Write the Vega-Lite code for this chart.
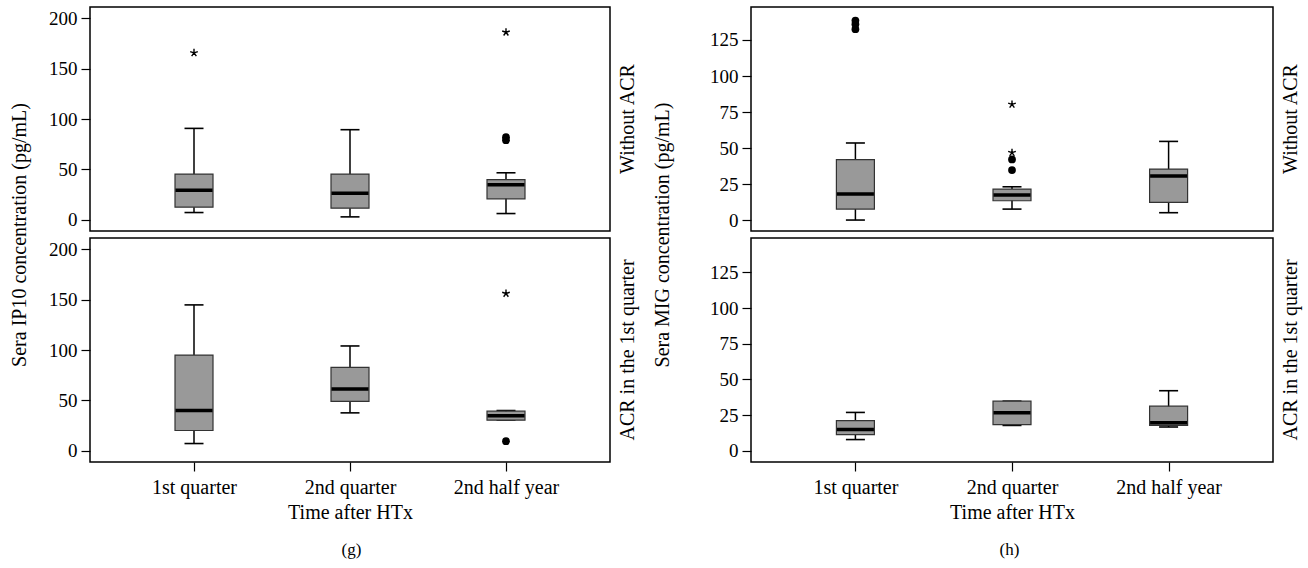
{
  "$schema": "https://vega.github.io/schema/vega-lite/v6.json",
  "padding": {"left": 8, "top": 6, "right": 5, "bottom": 5},
  "background": "white",
  "config": {
    "font": "Liberation Serif",
    "view": {"stroke": "black", "strokeWidth": 1.5},
    "axis": {"labelFont": "Liberation Serif", "labelFontSize": 19, "labelColor": "black", "titleFont": "Liberation Serif", "titleFontSize": 20, "titleFontWeight": "normal", "titleColor": "black", "tickColor": "black", "tickSize": 9, "tickWidth": 1.2, "domain": false, "grid": false, "labelPadding": 4},
    "axisX": {"labelFontSize": 20},
    "title": {"font": "Liberation Serif", "fontSize": 20, "fontWeight": "normal", "color": "black"},
    "tick": {"opacity": 1},
    "rule": {"opacity": 1}
  },
  "datasets": {
    "boxes": [
      {"panel": "g", "group": "w", "time": "1st quarter", "lower": 7.3, "q1": 12.6, "median": 29.5, "q3": 45.4, "upper": 90.7},
      {"panel": "g", "group": "w", "time": "2nd quarter", "lower": 3, "q1": 11.6, "median": 26.5, "q3": 45.4, "upper": 89.4},
      {"panel": "g", "group": "w", "time": "2nd half year", "lower": 6.3, "q1": 20.9, "median": 34.8, "q3": 40, "upper": 46.7},
      {"panel": "g", "group": "a", "time": "1st quarter", "lower": 7.3, "q1": 20.2, "median": 40, "q3": 95, "upper": 144.7},
      {"panel": "g", "group": "a", "time": "2nd quarter", "lower": 37.7, "q1": 49, "median": 61.3, "q3": 82.8, "upper": 104},
      {"panel": "g", "group": "a", "time": "2nd half year", "lower": 30.5, "q1": 30.5, "median": 34.8, "q3": 39.4, "upper": 40},
      {"panel": "h", "group": "w", "time": "1st quarter", "lower": 0, "q1": 7.6, "median": 18, "q3": 41.9, "upper": 53.5},
      {"panel": "h", "group": "w", "time": "2nd quarter", "lower": 7.6, "q1": 13.4, "median": 17.4, "q3": 21.5, "upper": 23.1},
      {"panel": "h", "group": "w", "time": "2nd half year", "lower": 5.1, "q1": 12.3, "median": 30.6, "q3": 35.4, "upper": 54.6},
      {"panel": "h", "group": "a", "time": "1st quarter", "lower": 7.9, "q1": 11.3, "median": 15, "q3": 21.1, "upper": 26.9},
      {"panel": "h", "group": "a", "time": "2nd quarter", "lower": 17.8, "q1": 18.3, "median": 26.6, "q3": 34.8, "upper": 34.8},
      {"panel": "h", "group": "a", "time": "2nd half year", "lower": 16.7, "q1": 17.8, "median": 19.7, "q3": 31.3, "upper": 42.1}
    ],
    "outs": [
      {"panel": "g", "group": "w", "time": "1st quarter", "value": 165.6, "kind": "e"},
      {"panel": "g", "group": "w", "time": "2nd half year", "value": 79, "kind": "o"},
      {"panel": "g", "group": "w", "time": "2nd half year", "value": 82, "kind": "o"},
      {"panel": "g", "group": "w", "time": "2nd half year", "value": 186, "kind": "e"},
      {"panel": "g", "group": "a", "time": "2nd half year", "value": 9.6, "kind": "o"},
      {"panel": "g", "group": "a", "time": "2nd half year", "value": 156, "kind": "e"},
      {"panel": "h", "group": "w", "time": "1st quarter", "value": 132.5, "kind": "o"},
      {"panel": "h", "group": "w", "time": "1st quarter", "value": 136, "kind": "o"},
      {"panel": "h", "group": "w", "time": "1st quarter", "value": 138.5, "kind": "o"},
      {"panel": "h", "group": "w", "time": "2nd quarter", "value": 34.7, "kind": "o"},
      {"panel": "h", "group": "w", "time": "2nd quarter", "value": 42.1, "kind": "o"},
      {"panel": "h", "group": "w", "time": "2nd quarter", "value": 46.8, "kind": "e"},
      {"panel": "h", "group": "w", "time": "2nd quarter", "value": 80.3, "kind": "e"}
    ]
  },
  "spacing": 12,
  "hconcat": [
    {
      "spacing": 7,
      "bounds": "flush",
      "title": {"text": "(g)", "orient": "bottom", "anchor": "middle", "fontSize": 17, "offset": 19, "dx": 28},
      "vconcat": [
        {
          "width": 520, "height": 224,
          "title": {"text": "Without ACR", "orient": "right", "angle": -90, "offset": -12, "anchor": "middle"},
          "encoding": {
            "x": {"field": "time", "type": "nominal", "scale": {"type": "point", "padding": 0.6667, "domain": ["1st quarter", "2nd quarter", "2nd half year"]}, "axis": null}
          },
          "layer": [
            {"data": {"name": "boxes"}, "transform": [{"filter": "datum.panel=='g' && datum.group=='w'"}], "mark": {"type": "rule", "color": "black", "strokeWidth": 1.5, "opacity": 1},
             "encoding": {"y": {"field": "lower", "type": "quantitative", "scale": {"domain": [-11, 211], "nice": false, "zero": false}, "axis": {"values": [0, 50, 100, 150, 200], "title": "Sera IP10 concentration (pg/mL)", "titleX": -71, "titleY": 227.5, "titleAngle": -90, "titleAlign": "center", "titleBaseline": "middle"}}, "y2": {"field": "upper"}}},
            {"data": {"name": "boxes"}, "transform": [{"filter": "datum.panel=='g' && datum.group=='w'"}], "mark": {"type": "tick", "color": "black", "size": 19, "thickness": 1.6, "opacity": 1}, "encoding": {"y": {"field": "lower", "type": "quantitative"}}},
            {"data": {"name": "boxes"}, "transform": [{"filter": "datum.panel=='g' && datum.group=='w'"}], "mark": {"type": "tick", "color": "black", "size": 19, "thickness": 1.6, "opacity": 1}, "encoding": {"y": {"field": "upper", "type": "quantitative"}}},
            {"data": {"name": "boxes"}, "transform": [{"filter": "datum.panel=='g' && datum.group=='w'"}], "mark": {"type": "bar", "size": 38, "fill": "#999999", "stroke": "#333333", "strokeWidth": 1.2, "opacity": 1}, "encoding": {"y": {"field": "q1", "type": "quantitative"}, "y2": {"field": "q3"}}},
            {"data": {"name": "boxes"}, "transform": [{"filter": "datum.panel=='g' && datum.group=='w'"}], "mark": {"type": "tick", "color": "black", "size": 37, "thickness": 3.5, "opacity": 1}, "encoding": {"y": {"field": "median", "type": "quantitative"}}},
            {"data": {"name": "outs"}, "transform": [{"filter": "datum.panel=='g' && datum.group=='w' && datum.kind=='o'"}], "mark": {"type": "point", "filled": true, "color": "black", "size": 60, "opacity": 1}, "encoding": {"y": {"field": "value", "type": "quantitative"}}},
            {"data": {"name": "outs"}, "transform": [{"filter": "datum.panel=='g' && datum.group=='w' && datum.kind=='e'"}], "mark": {"type": "point", "shape": "M0,-1L0,0M0,0L0.95,-0.31M0,0L0.59,0.81M0,0L-0.59,0.81M0,0L-0.95,-0.31", "filled": false, "color": "black", "strokeWidth": 1.4, "size": 64, "opacity": 1}, "encoding": {"y": {"field": "value", "type": "quantitative"}}}
          ]
        },
        {
          "width": 520, "height": 224,
          "title": {"text": "ACR in the 1st quarter", "orient": "right", "angle": -90, "offset": -12, "anchor": "middle"},
          "encoding": {
            "x": {"field": "time", "type": "nominal", "scale": {"type": "point", "padding": 0.6667, "domain": ["1st quarter", "2nd quarter", "2nd half year"]}, "axis": {"title": "Time after HTx", "labelAngle": 0, "labelPadding": 6, "titlePadding": 5}}
          },
          "layer": [
            {"data": {"name": "boxes"}, "transform": [{"filter": "datum.panel=='g' && datum.group=='a'"}], "mark": {"type": "rule", "color": "black", "strokeWidth": 1.5, "opacity": 1},
             "encoding": {"y": {"field": "lower", "type": "quantitative", "scale": {"domain": [-11, 211], "nice": false, "zero": false}, "axis": {"values": [0, 50, 100, 150, 200], "title": null}}, "y2": {"field": "upper"}}},
            {"data": {"name": "boxes"}, "transform": [{"filter": "datum.panel=='g' && datum.group=='a'"}], "mark": {"type": "tick", "color": "black", "size": 19, "thickness": 1.6, "opacity": 1}, "encoding": {"y": {"field": "lower", "type": "quantitative"}}},
            {"data": {"name": "boxes"}, "transform": [{"filter": "datum.panel=='g' && datum.group=='a'"}], "mark": {"type": "tick", "color": "black", "size": 19, "thickness": 1.6, "opacity": 1}, "encoding": {"y": {"field": "upper", "type": "quantitative"}}},
            {"data": {"name": "boxes"}, "transform": [{"filter": "datum.panel=='g' && datum.group=='a'"}], "mark": {"type": "bar", "size": 38, "fill": "#999999", "stroke": "#333333", "strokeWidth": 1.2, "opacity": 1}, "encoding": {"y": {"field": "q1", "type": "quantitative"}, "y2": {"field": "q3"}}},
            {"data": {"name": "boxes"}, "transform": [{"filter": "datum.panel=='g' && datum.group=='a'"}], "mark": {"type": "tick", "color": "black", "size": 37, "thickness": 3.5, "opacity": 1}, "encoding": {"y": {"field": "median", "type": "quantitative"}}},
            {"data": {"name": "outs"}, "transform": [{"filter": "datum.panel=='g' && datum.group=='a' && datum.kind=='o'"}], "mark": {"type": "point", "filled": true, "color": "black", "size": 60, "opacity": 1}, "encoding": {"y": {"field": "value", "type": "quantitative"}}},
            {"data": {"name": "outs"}, "transform": [{"filter": "datum.panel=='g' && datum.group=='a' && datum.kind=='e'"}], "mark": {"type": "point", "shape": "M0,-1L0,0M0,0L0.95,-0.31M0,0L0.59,0.81M0,0L-0.59,0.81M0,0L-0.95,-0.31", "filled": false, "color": "black", "strokeWidth": 1.4, "size": 64, "opacity": 1}, "encoding": {"y": {"field": "value", "type": "quantitative"}}}
          ]
        }
      ]
    },
    {
      "spacing": 7,
      "bounds": "flush",
      "title": {"text": "(h)", "orient": "bottom", "anchor": "middle", "fontSize": 17, "offset": 19, "dx": 33},
      "vconcat": [
        {
          "width": 522, "height": 224,
          "title": {"text": "Without ACR", "orient": "right", "angle": -90, "offset": -12, "anchor": "middle"},
          "encoding": {
            "x": {"field": "time", "type": "nominal", "scale": {"type": "point", "padding": 0.6667, "domain": ["1st quarter", "2nd quarter", "2nd half year"]}, "axis": null}
          },
          "layer": [
            {"data": {"name": "boxes"}, "transform": [{"filter": "datum.panel=='h' && datum.group=='w'"}], "mark": {"type": "rule", "color": "black", "strokeWidth": 1.5, "opacity": 1},
             "encoding": {"y": {"field": "lower", "type": "quantitative", "scale": {"domain": [-7.6, 147.9], "nice": false, "zero": false}, "axis": {"values": [0, 25, 50, 75, 100, 125], "title": "Sera MIG concentration (pg/mL)", "titleX": -89, "titleY": 227.5, "titleAngle": -90, "titleAlign": "center", "titleBaseline": "middle"}}, "y2": {"field": "upper"}}},
            {"data": {"name": "boxes"}, "transform": [{"filter": "datum.panel=='h' && datum.group=='w'"}], "mark": {"type": "tick", "color": "black", "size": 19, "thickness": 1.6, "opacity": 1}, "encoding": {"y": {"field": "lower", "type": "quantitative"}}},
            {"data": {"name": "boxes"}, "transform": [{"filter": "datum.panel=='h' && datum.group=='w'"}], "mark": {"type": "tick", "color": "black", "size": 19, "thickness": 1.6, "opacity": 1}, "encoding": {"y": {"field": "upper", "type": "quantitative"}}},
            {"data": {"name": "boxes"}, "transform": [{"filter": "datum.panel=='h' && datum.group=='w'"}], "mark": {"type": "bar", "size": 38, "fill": "#999999", "stroke": "#333333", "strokeWidth": 1.2, "opacity": 1}, "encoding": {"y": {"field": "q1", "type": "quantitative"}, "y2": {"field": "q3"}}},
            {"data": {"name": "boxes"}, "transform": [{"filter": "datum.panel=='h' && datum.group=='w'"}], "mark": {"type": "tick", "color": "black", "size": 37, "thickness": 3.5, "opacity": 1}, "encoding": {"y": {"field": "median", "type": "quantitative"}}},
            {"data": {"name": "outs"}, "transform": [{"filter": "datum.panel=='h' && datum.group=='w' && datum.kind=='o'"}], "mark": {"type": "point", "filled": true, "color": "black", "size": 60, "opacity": 1}, "encoding": {"y": {"field": "value", "type": "quantitative"}}},
            {"data": {"name": "outs"}, "transform": [{"filter": "datum.panel=='h' && datum.group=='w' && datum.kind=='e'"}], "mark": {"type": "point", "shape": "M0,-1L0,0M0,0L0.95,-0.31M0,0L0.59,0.81M0,0L-0.59,0.81M0,0L-0.95,-0.31", "filled": false, "color": "black", "strokeWidth": 1.4, "size": 64, "opacity": 1}, "encoding": {"y": {"field": "value", "type": "quantitative"}}}
          ]
        },
        {
          "width": 522, "height": 224,
          "title": {"text": "ACR in the 1st quarter", "orient": "right", "angle": -90, "offset": -12, "anchor": "middle"},
          "encoding": {
            "x": {"field": "time", "type": "nominal", "scale": {"type": "point", "padding": 0.6667, "domain": ["1st quarter", "2nd quarter", "2nd half year"]}, "axis": {"title": "Time after HTx", "labelAngle": 0, "labelPadding": 6, "titlePadding": 5}}
          },
          "layer": [
            {"data": {"name": "boxes"}, "transform": [{"filter": "datum.panel=='h' && datum.group=='a'"}], "mark": {"type": "rule", "color": "black", "strokeWidth": 1.5, "opacity": 1},
             "encoding": {"y": {"field": "lower", "type": "quantitative", "scale": {"domain": [-7.8, 149], "nice": false, "zero": false}, "axis": {"values": [0, 25, 50, 75, 100, 125], "title": null}}, "y2": {"field": "upper"}}},
            {"data": {"name": "boxes"}, "transform": [{"filter": "datum.panel=='h' && datum.group=='a'"}], "mark": {"type": "tick", "color": "black", "size": 19, "thickness": 1.6, "opacity": 1}, "encoding": {"y": {"field": "lower", "type": "quantitative"}}},
            {"data": {"name": "boxes"}, "transform": [{"filter": "datum.panel=='h' && datum.group=='a'"}], "mark": {"type": "tick", "color": "black", "size": 19, "thickness": 1.6, "opacity": 1}, "encoding": {"y": {"field": "upper", "type": "quantitative"}}},
            {"data": {"name": "boxes"}, "transform": [{"filter": "datum.panel=='h' && datum.group=='a'"}], "mark": {"type": "bar", "size": 38, "fill": "#999999", "stroke": "#333333", "strokeWidth": 1.2, "opacity": 1}, "encoding": {"y": {"field": "q1", "type": "quantitative"}, "y2": {"field": "q3"}}},
            {"data": {"name": "boxes"}, "transform": [{"filter": "datum.panel=='h' && datum.group=='a'"}], "mark": {"type": "tick", "color": "black", "size": 37, "thickness": 3.5, "opacity": 1}, "encoding": {"y": {"field": "median", "type": "quantitative"}}}
          ]
        }
      ]
    }
  ]
}
